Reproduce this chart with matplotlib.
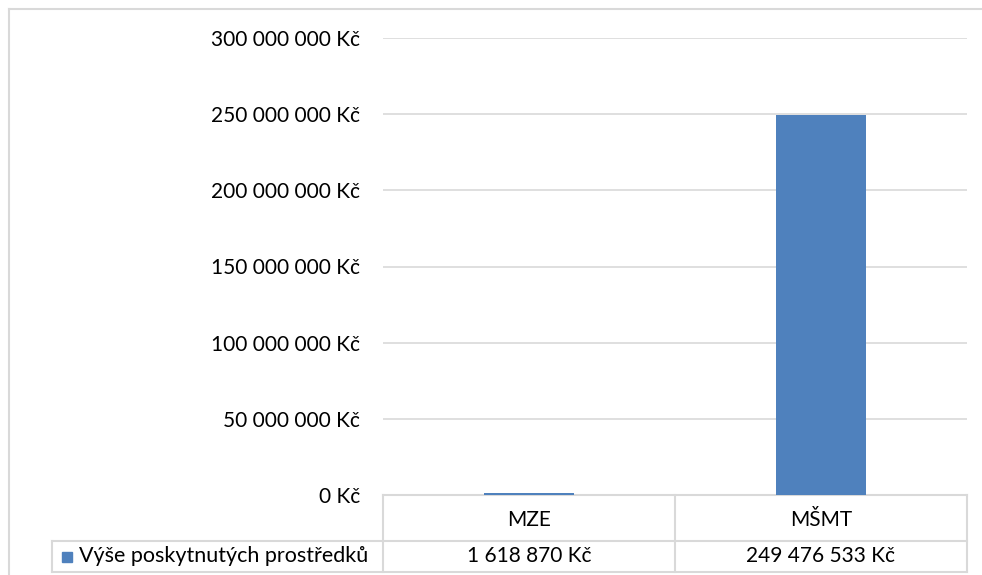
import matplotlib
matplotlib.use("Agg")
import matplotlib.pyplot as plt
from matplotlib.lines import Line2D
from matplotlib.patches import Rectangle

categories = ["MZE", "MŠMT"]
values = [1618870, 249476533]
series_name = "Výše poskytnutých prostředků"
yticks = [0, 50000000, 100000000, 150000000, 200000000, 250000000, 300000000]

def fmt(v):
    return f"{v:,}".replace(",", " ") + " Kč"

plt.rcParams['font.family'] = ['Lato', 'DejaVu Sans']
W, H = 982, 575
fig = plt.figure(figsize=(W / 100, H / 100), dpi=100)
grid_c = "#d9d9d9"
bar_c = "#4f81bd"

L, R, B, T = 383, 967, 495, 38
ax = fig.add_axes([L / W, 1 - B / H, (R - L) / W, (B - T) / H])
x = list(range(len(categories)))
ax.bar(x, values, width=0.31, color=bar_c, zorder=3)
ax.set_xlim(-0.5, len(categories) - 0.5)
ax.set_ylim(0, 300000000)
ax.set_yticks(yticks)
ax.set_yticklabels([fmt(v) for v in yticks], fontsize=15)
ax.tick_params(axis='y', length=0, pad=16.5)
ax.set_xticks([])
for s in ax.spines.values():
    s.set_visible(False)
ax.yaxis.grid(True, color=grid_c, linewidth=1.2, zorder=0)
ax.set_axisbelow(True)

# data table in axes coordinates
ah = B - T
aw = R - L
y0 = 0.0
y1 = -46 / ah
y2 = -77 / ah
xl = (52 - L) / aw
xm = (675 - L) / aw
lk = dict(color=grid_c, linewidth=1.5, clip_on=False, transform=ax.transAxes)
ax.add_line(Line2D([0, 1], [y0, y0], **lk))
ax.add_line(Line2D([xl, 1], [y1, y1], **lk))
ax.add_line(Line2D([xl, 1], [y2, y2], **lk))
ax.add_line(Line2D([0, 0], [y0, y2], **lk))
ax.add_line(Line2D([xm, xm], [y0, y2], **lk))
ax.add_line(Line2D([1, 1], [y0, y2], **lk))
ax.add_line(Line2D([xl, xl], [y1, y2], **lk))

centers = [0.25, 0.75]
for c, cat, v in zip(centers, categories, values):
    ax.text(c, (y0 + y1) / 2 - 0.005, cat, transform=ax.transAxes, ha='center', va='center', fontsize=15)
    ax.text(c, (y1 + y2) / 2, fmt(v), transform=ax.transAxes, ha='center', va='center', fontsize=15)

sq = 10 / aw
ax.add_patch(Rectangle(((62 - L) / aw, (y1 + y2) / 2 - 5 / ah), sq, 10 / ah,
                       transform=ax.transAxes, color=bar_c, clip_on=False))
ax.text((79 - L) / aw, (y1 + y2) / 2, series_name, transform=ax.transAxes,
        ha='left', va='center', fontsize=15.5)

# outer chart border (partially visible)
bx = 8.5 / W
by = 1 - 8.5 / H
fig.add_artist(Line2D([bx, bx], [0, by], color=grid_c, linewidth=1.5, transform=fig.transFigure))
fig.add_artist(Line2D([bx, 1], [by, by], color=grid_c, linewidth=1.5, transform=fig.transFigure))

fig.savefig("out.png", dpi=100)
